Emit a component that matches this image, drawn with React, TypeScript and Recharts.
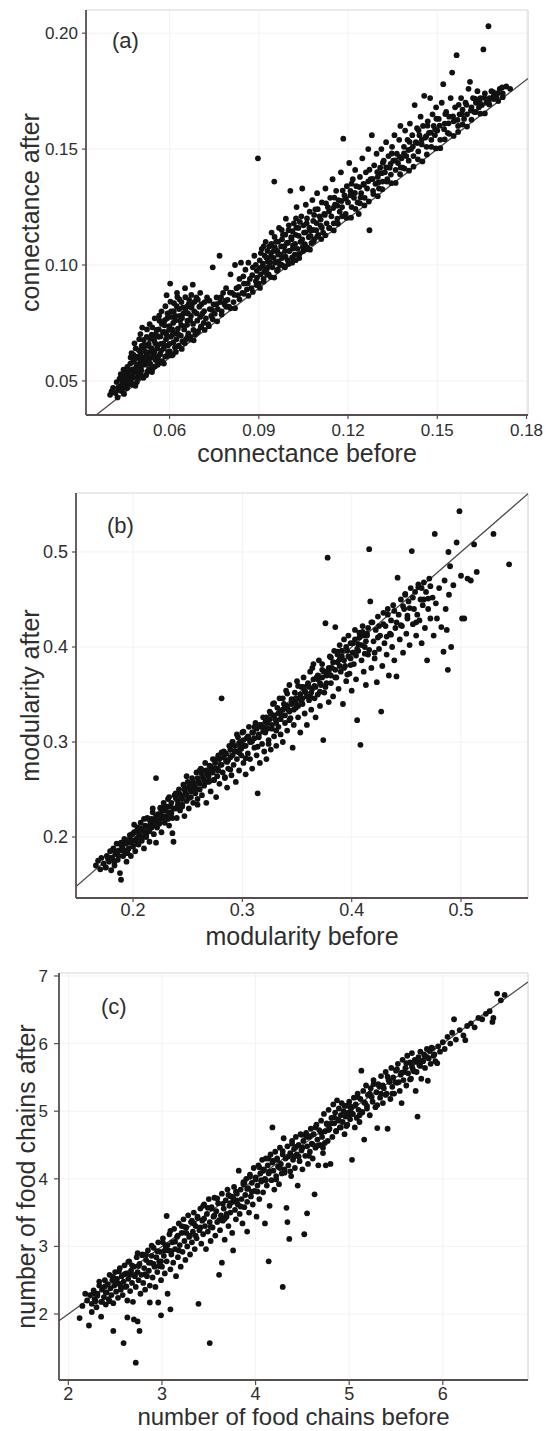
import { ScatterChart, Scatter, XAxis, YAxis, CartesianGrid, ReferenceLine } from "recharts"

type Pt = [number, number]

// (a) connectance before / after
const connectancePoints: Pt[] = [
  [0.0400,0.0440],[0.0405,0.0455],[0.0410,0.0470],[0.0418,0.0448],[0.0422,0.0495],[0.0428,0.0462],[0.0435,0.0478],[0.0432,0.0510],[0.0440,0.0456],
  [0.0442,0.0525],[0.0446,0.0490],[0.0450,0.0470],[0.0452,0.0545],[0.0455,0.0508],[0.0458,0.0560],[0.0462,0.0485],[0.0465,0.0530],[0.0468,0.0575],[0.0470,0.0500],[0.0472,0.0620],[0.0475,0.0550],
  [0.0478,0.0515],[0.0480,0.0590],[0.0483,0.0535],[0.0486,0.0640],[0.0488,0.0560],[0.0490,0.0495],[0.0493,0.0605],[0.0496,0.0525],[0.0498,0.0680],[0.0500,0.0575],[0.0503,0.0620],[0.0505,0.0545],[0.0508,0.0730],[0.0510,0.0600],[0.0512,0.0515],
  [0.0515,0.0655],[0.0518,0.0570],[0.0520,0.0625],[0.0523,0.0690],[0.0525,0.0540],[0.0528,0.0600],[0.0530,0.0660],[0.0533,0.0745],[0.0535,0.0575],[0.0538,0.0630],[0.0540,0.0700],[0.0543,0.0555],[0.0545,0.0610],[0.0548,0.0675],[0.0550,0.0770],
  [0.0553,0.0590],[0.0556,0.0720],[0.0558,0.0640],[0.0560,0.0570],[0.0563,0.0690],[0.0566,0.0760],[0.0568,0.0615],[0.0570,0.0660],[0.0573,0.0800],[0.0575,0.0585],[0.0578,0.0710],[0.0580,0.0640],[0.0583,0.0740],[0.0585,0.0605],[0.0588,0.0680],[0.0590,0.0870],
  [0.0592,0.0770],[0.0595,0.0625],[0.0598,0.0720],[0.0600,0.0660],[0.0602,0.0920],[0.0605,0.0800],[0.0607,0.0610],[0.0610,0.0700],[0.0612,0.0750],[0.0615,0.0835],[0.0618,0.0645],[0.0620,0.0780],[0.0623,0.0680],[0.0625,0.0880],[0.0628,0.0725],[0.0630,0.0650],
  [0.0632,0.0810],[0.0635,0.0760],[0.0638,0.0695],[0.0640,0.0840],[0.0643,0.0670],[0.0646,0.0790],[0.0650,0.0735],[0.0652,0.0900],[0.0655,0.0680],[0.0658,0.0820],[0.0660,0.0760],[0.0663,0.0705],[0.0666,0.0850],[0.0670,0.0690],[0.0672,0.0780],
  [0.0675,0.0830],[0.0678,0.0915],[0.0680,0.0720],[0.0683,0.0800],[0.0686,0.0700],[0.0690,0.0860],[0.0693,0.0760],[0.0696,0.0715],[0.0700,0.0820],[0.0703,0.0880],[0.0706,0.0735],[0.0710,0.0790],[0.0715,0.0750],[0.0718,0.0840],
  [0.0722,0.0770],[0.0726,0.0860],[0.0730,0.0745],[0.0735,0.0810],[0.0740,0.0780],[0.0745,0.0990],[0.0748,0.0830],[0.0752,0.0790],[0.0758,0.0860],[0.0762,0.0810],[0.0768,0.1040],[0.0770,0.0840],[0.0775,0.0800],[0.0780,0.0880],[0.0785,0.0830],[0.0790,0.0900],
  [0.0795,0.0850],[0.0800,0.0820],[0.0805,0.0960],[0.0810,0.0880],[0.0815,0.0840],[0.0820,0.1000],[0.0825,0.0900],[0.0830,0.0870],[0.0835,0.0940],[0.0840,0.1010],[0.0845,0.0880],[0.0850,0.0920],[0.0855,0.0980],[0.0860,0.0895],[0.0865,0.1010],[0.0870,0.0940],[0.0875,0.0900],[0.0880,0.0990],[0.0885,0.1040],[0.0890,0.0930],
  [0.0893,0.0975],[0.0897,0.1460],[0.0900,0.0920],[0.0903,0.1020],[0.0906,0.0960],[0.0910,0.1070],[0.0913,0.0995],[0.0916,0.0940],[0.0920,0.1040],[0.0923,0.1100],[0.0926,0.0980],[0.0930,0.1015],[0.0933,0.0960],[0.0936,0.1080],[0.0940,0.1035],[0.0943,0.1140],[0.0946,0.0990],[0.0950,0.1060],[0.0952,0.1360],[0.0955,0.1010],[0.0958,0.1100],[0.0961,0.0975],[0.0965,0.1045],[0.0968,0.1160],[0.0971,0.1000],[0.0975,0.1080],[0.0978,0.1030],[0.0981,0.1130],[0.0985,0.0995],[0.0988,0.1060],
  [0.0991,0.1200],[0.0994,0.1095],[0.0997,0.1020],[0.1000,0.1150],[0.1003,0.1060],[0.1006,0.1320],[0.1009,0.1120],[0.1012,0.1010],[0.1015,0.1085],[0.1018,0.1180],[0.1021,0.1045],[0.1024,0.1130],[0.1027,0.1250],[0.1030,0.1070],[0.1033,0.1160],[0.1036,0.1030],[0.1040,0.1100],[0.1043,0.1210],[0.1046,0.1330],[0.1049,0.1060],[0.1052,0.1140],[0.1055,0.1090],[0.1058,0.1260],[0.1061,0.1180],[0.1064,0.1075],[0.1068,0.1120],[0.1071,0.1230],[0.1074,0.1150],[0.1077,0.1095],[0.1080,0.1280],
  [0.1083,0.1190],[0.1086,0.1110],[0.1090,0.1240],[0.1093,0.1150],[0.1096,0.1310],[0.1100,0.1130],[0.1104,0.1210],[0.1108,0.1170],[0.1112,0.1270],[0.1116,0.1140],[0.1120,0.1220],[0.1124,0.1330],[0.1128,0.1180],[0.1132,0.1250],[0.1136,0.1160],[0.1140,0.1290],[0.1144,0.1210],[0.1148,0.1370],[0.1152,0.1180],[0.1156,0.1260],[0.1160,0.1320],[0.1164,0.1200],[0.1168,0.1280],[0.1172,0.1230],[0.1176,0.1400],[0.1180,0.1250],[0.1184,0.1545],[0.1188,0.1300],[0.1192,0.1220],[0.1196,0.1340],
  [0.1200,0.1270],[0.1204,0.1440],[0.1208,0.1320],[0.1212,0.1250],[0.1216,0.1370],[0.1220,0.1290],[0.1224,0.1410],[0.1228,0.1340],[0.1232,0.1270],[0.1236,0.1220],[0.1240,0.1380],[0.1244,0.1310],[0.1248,0.1460],[0.1252,0.1350],[0.1256,0.1290],[0.1260,0.1400],[0.1264,0.1330],[0.1268,0.1500],[0.1272,0.1150],[0.1276,0.1370],[0.1280,0.1560],[0.1284,0.1320],[0.1288,0.1430],[0.1292,0.1350],[0.1296,0.1480],
  [0.1300,0.1380],[0.1304,0.1330],[0.1308,0.1420],[0.1312,0.1500],[0.1316,0.1360],[0.1320,0.1450],[0.1324,0.1400],[0.1328,0.1530],[0.1332,0.1370],[0.1336,0.1470],[0.1340,0.1420],[0.1344,0.1390],[0.1348,0.1510],[0.1352,0.1450],[0.1356,0.1560],[0.1360,0.1410],[0.1364,0.1480],[0.1368,0.1440],[0.1372,0.1540],[0.1376,0.1600],[0.1380,0.1460],[0.1384,0.1420],[0.1388,0.1510],[0.1392,0.1580],[0.1396,0.1470],
  [0.1400,0.1540],[0.1404,0.1450],[0.1408,0.1610],[0.1412,0.1500],[0.1416,0.1560],[0.1420,0.1470],[0.1424,0.1690],[0.1428,0.1530],[0.1432,0.1590],[0.1436,0.1490],[0.1440,0.1560],[0.1444,0.1640],[0.1448,0.1520],[0.1452,0.1600],[0.1456,0.1730],[0.1460,0.1550],[0.1464,0.1510],[0.1468,0.1620],[0.1472,0.1570],[0.1476,0.1720],[0.1480,0.1540],[0.1484,0.1650],[0.1488,0.1600],[0.1492,0.1560],[0.1496,0.1680],
  [0.1500,0.1580],[0.1505,0.1630],[0.1510,0.1540],[0.1515,0.1700],[0.1520,0.1780],[0.1525,0.1610],[0.1530,0.1660],[0.1535,0.1570],[0.1540,0.1640],[0.1545,0.1720],[0.1550,0.1830],[0.1555,0.1620],[0.1560,0.1680],[0.1565,0.1905],[0.1570,0.1600],[0.1575,0.1650],[0.1580,0.1720],[0.1585,0.1670],[0.1590,0.1630],[0.1595,0.1700],
  [0.1600,0.1650],[0.1605,0.1760],[0.1610,0.1790],[0.1615,0.1680],[0.1620,0.1720],[0.1625,0.1660],[0.1630,0.1700],[0.1635,0.1750],[0.1640,0.1680],[0.1645,0.1720],[0.1650,0.1690],[0.1655,0.1930],[0.1660,0.1740],[0.1665,0.1700],[0.1672,0.2030],[0.1676,0.1720],[0.1682,0.1750],[0.1690,0.1730],[0.1700,0.1720],[0.1710,0.1760],[0.1720,0.1740],[0.1732,0.1770],[0.1745,0.1760],
  [0.0425,0.0429],[0.0427,0.0471],[0.0437,0.0458],[0.0439,0.0502],[0.0436,0.0529],[0.0447,0.0444],[0.0449,0.0521],[0.0445,0.0549],[0.0457,0.0469],[0.0459,0.0533],[0.0456,0.0500],
  [0.0466,0.0496],[0.0464,0.0546],[0.0469,0.0601],[0.0467,0.0519],[0.0476,0.0484],[0.0477,0.0582],[0.0474,0.0530],[0.0479,0.0612],[0.0485,0.0479],[0.0487,0.0551],[0.0484,0.0596],[0.0482,0.0662],
  [0.0494,0.0511],[0.0492,0.0571],[0.0497,0.0632],[0.0495,0.0546],[0.0503,0.0529],[0.0501,0.0592],[0.0506,0.0651],[0.0504,0.0561],[0.0502,0.0702],[0.0512,0.0514],[0.0514,0.0586],[0.0511,0.0642],[0.0513,0.0677],
  [0.0521,0.0525],[0.0522,0.0611],[0.0519,0.0584],[0.0524,0.0722],[0.0526,0.0651],[0.0531,0.0552],[0.0529,0.0621],[0.0534,0.0682],[0.0532,0.0596],[0.0541,0.0538],[0.0539,0.0641],[0.0544,0.0601],[0.0542,0.0731],[0.0546,0.0692],
  [0.0551,0.0563],[0.0549,0.0626],[0.0554,0.0701],[0.0552,0.0662],[0.0561,0.0591],[0.0559,0.0652],[0.0564,0.0722],[0.0562,0.0606],[0.0565,0.0782],[0.0571,0.0579],[0.0569,0.0692],[0.0574,0.0746],[0.0572,0.0631],
  [0.0581,0.0575],[0.0579,0.0662],[0.0584,0.0762],[0.0582,0.0711],[0.0586,0.0822],[0.0591,0.0608],[0.0589,0.0701],[0.0594,0.0652],[0.0593,0.0791],[0.0601,0.0627],[0.0599,0.0736],[0.0604,0.0691],[0.0603,0.0842],[0.0606,0.0776],
  [0.0611,0.0613],[0.0609,0.0722],[0.0614,0.0801],[0.0613,0.0666],[0.0621,0.0625],[0.0619,0.0761],[0.0624,0.0822],[0.0622,0.0706],[0.0626,0.0862],[0.0631,0.0652],[0.0629,0.0702],[0.0634,0.0781],[0.0633,0.0852],
  [0.0641,0.0638],[0.0639,0.0741],[0.0644,0.0816],[0.0642,0.0771],[0.0651,0.0663],[0.0649,0.0722],[0.0654,0.0801],[0.0653,0.0861],[0.0661,0.0691],[0.0659,0.0742],[0.0664,0.0831],[0.0662,0.0791],
  [0.0671,0.0679],[0.0669,0.0762],[0.0674,0.0816],[0.0673,0.0871],[0.0681,0.0675],[0.0679,0.0746],[0.0684,0.0841],[0.0693,0.0710],[0.0691,0.0791],[0.0695,0.0851],[0.0705,0.0731],[0.0703,0.0776],[0.0707,0.0831],
  [0.0718,0.0720],[0.0716,0.0801],[0.0732,0.0736],[0.0734,0.0846],[0.0745,0.0766],[0.0743,0.0806],[0.0760,0.0757],[0.0758,0.0831],[0.0775,0.0787],[0.0773,0.0861],[0.0790,0.0820],[0.0788,0.0846],
  [0.0805,0.0813],[0.0803,0.0881],[0.0820,0.0814],[0.0818,0.0871],[0.0835,0.0852],[0.0833,0.0906],[0.0850,0.0876],[0.0848,0.0951],[0.0865,0.0867],[0.0863,0.0921],[0.0880,0.0884],[0.0878,0.0956],
  [0.0892,0.0913],[0.0894,0.0946],[0.0890,0.1001],[0.0904,0.0901],[0.0902,0.0986],[0.0907,0.1051],[0.0916,0.0928],[0.0914,0.1006],[0.0918,0.0971],[0.0917,0.1081],[0.0928,0.0958],[0.0926,0.1031],[0.0931,0.0991],[0.0929,0.1061],
  [0.0940,0.0948],[0.0938,0.1011],[0.0942,0.1091],[0.0941,0.1051],[0.0952,0.0946],[0.0950,0.1031],[0.0954,0.1076],[0.0953,0.1121],[0.0964,0.0981],[0.0962,0.1061],[0.0966,0.1016],[0.0965,0.1101],
  [0.0976,0.1002],[0.0974,0.1046],[0.0978,0.1111],[0.0977,0.1151],[0.0988,0.0990],[0.0986,0.1081],[0.0990,0.1036],[0.0989,0.1131],[0.1000,0.1004],[0.0998,0.1096],[0.1002,0.1061],[0.1001,0.1171],
  [0.1012,0.1033],[0.1010,0.1111],[0.1014,0.1071],[0.1013,0.1146],[0.1024,0.1021],[0.1022,0.1091],[0.1026,0.1161],[0.1025,0.1201],[0.1036,0.1048],[0.1034,0.1126],[0.1038,0.1186],
  [0.1048,0.1078],[0.1046,0.1111],[0.1050,0.1171],[0.1060,0.1068],[0.1058,0.1141],[0.1062,0.1201],[0.1072,0.1066],[0.1070,0.1161],[0.1074,0.1126],[0.1084,0.1101],[0.1082,0.1151],[0.1086,0.1216],
  [0.1096,0.1122],[0.1094,0.1181],[0.1098,0.1241],[0.1110,0.1112],[0.1108,0.1196],[0.1112,0.1161],[0.1124,0.1128],[0.1122,0.1216],[0.1126,0.1266],[0.1138,0.1159],[0.1136,0.1231],
  [0.1152,0.1149],[0.1150,0.1246],[0.1154,0.1291],[0.1166,0.1178],[0.1164,0.1256],[0.1180,0.1210],[0.1178,0.1276],[0.1182,0.1321],[0.1195,0.1203],[0.1193,0.1286],
  [0.1210,0.1204],[0.1208,0.1301],[0.1212,0.1351],[0.1225,0.1242],[0.1223,0.1311],[0.1240,0.1266],[0.1238,0.1336],[0.1242,0.1291],[0.1255,0.1257],[0.1253,0.1346],
  [0.1270,0.1274],[0.1268,0.1361],[0.1272,0.1411],[0.1285,0.1306],[0.1283,0.1371],[0.1300,0.1297],[0.1298,0.1401],[0.1302,0.1356],[0.1315,0.1327],[0.1313,0.1396],[0.1317,0.1441],
  [0.1330,0.1360],[0.1328,0.1421],[0.1345,0.1353],[0.1343,0.1436],[0.1347,0.1481],[0.1360,0.1354],[0.1358,0.1451],[0.1375,0.1392],[0.1373,0.1466],[0.1377,0.1421],[0.1390,0.1416],[0.1388,0.1481],
  [0.1405,0.1407],[0.1403,0.1496],[0.1407,0.1531],[0.1420,0.1424],[0.1418,0.1511],[0.1435,0.1456],[0.1433,0.1526],[0.1437,0.1581],[0.1450,0.1447],[0.1448,0.1541],[0.1465,0.1477],[0.1463,0.1556],[0.1467,0.1601],
  [0.1480,0.1510],[0.1478,0.1571],[0.1495,0.1503],[0.1493,0.1586],[0.1497,0.1631],[0.1510,0.1504],[0.1508,0.1601],[0.1525,0.1542],[0.1523,0.1586],[0.1527,0.1651],[0.1540,0.1566],[0.1538,0.1611],
  [0.1555,0.1557],[0.1553,0.1641],[0.1570,0.1574],[0.1568,0.1626],[0.1572,0.1691],[0.1585,0.1606],[0.1583,0.1651],[0.1600,0.1597],[0.1598,0.1691],[0.1615,0.1627],[0.1613,0.1666],
  [0.1630,0.1660],[0.1628,0.1716],[0.1645,0.1653],[0.1643,0.1701],[0.1660,0.1654],[0.1658,0.1721],[0.1675,0.1692],[0.1673,0.1706],[0.1690,0.1716],[0.1688,0.1746],[0.1705,0.1707],[0.1703,0.1741],[0.1720,0.1724],[0.1718,0.1766],
]

// (b) modularity before / after
const modularityPoints: Pt[] = [
  [0.166,0.170],[0.168,0.175],[0.170,0.166],[0.171,0.178],[0.173,0.172],[0.175,0.168],[0.176,0.180],[0.178,0.174],[0.179,0.185],[0.180,0.165],
  [0.181,0.178],[0.182,0.188],[0.183,0.170],[0.184,0.182],[0.185,0.193],[0.186,0.176],[0.187,0.186],[0.188,0.162],[0.189,0.155],[0.190,0.190],[0.191,0.180],[0.192,0.198],[0.193,0.185],[0.194,0.174],[0.195,0.194],[0.196,0.188],[0.197,0.202],[0.198,0.180],[0.199,0.196],[0.200,0.190],
  [0.201,0.205],[0.202,0.185],[0.203,0.198],[0.204,0.210],[0.205,0.192],[0.206,0.203],[0.207,0.215],[0.208,0.196],[0.209,0.207],[0.210,0.188],[0.211,0.212],[0.212,0.200],[0.213,0.220],[0.214,0.206],[0.215,0.195],[0.216,0.215],[0.217,0.210],[0.218,0.226],[0.219,0.203],[0.220,0.218],
  [0.221,0.262],[0.222,0.210],[0.223,0.224],[0.224,0.214],[0.225,0.231],[0.226,0.205],[0.227,0.220],[0.228,0.236],[0.229,0.215],[0.230,0.228],[0.231,0.222],[0.232,0.240],[0.233,0.212],[0.234,0.232],[0.235,0.225],[0.236,0.204],[0.237,0.195],[0.238,0.244],[0.239,0.230],[0.240,0.220],
  [0.241,0.238],[0.242,0.250],[0.243,0.228],[0.244,0.243],[0.245,0.234],[0.246,0.255],[0.247,0.222],[0.248,0.246],[0.249,0.238],[0.250,0.258],[0.251,0.230],[0.252,0.250],[0.253,0.242],[0.254,0.262],[0.255,0.236],[0.256,0.254],[0.257,0.246],[0.258,0.268],[0.259,0.240],[0.260,0.258],
  [0.261,0.250],[0.262,0.272],[0.263,0.244],[0.264,0.262],[0.265,0.254],[0.266,0.278],[0.267,0.236],[0.268,0.266],[0.269,0.258],[0.270,0.275],[0.271,0.248],[0.272,0.268],[0.273,0.282],[0.274,0.260],[0.275,0.272],[0.276,0.242],[0.277,0.264],[0.278,0.286],[0.279,0.256],[0.280,0.276],
  [0.281,0.346],[0.282,0.268],[0.283,0.290],[0.284,0.262],[0.285,0.280],[0.286,0.252],[0.287,0.272],[0.288,0.296],[0.289,0.284],[0.290,0.265],[0.291,0.300],[0.292,0.276],[0.293,0.290],[0.294,0.258],[0.295,0.282],[0.296,0.305],[0.297,0.270],[0.298,0.294],[0.299,0.286],[0.300,0.310],
  [0.301,0.278],[0.302,0.296],[0.303,0.266],[0.304,0.304],[0.305,0.288],[0.306,0.316],[0.307,0.282],[0.308,0.300],[0.309,0.272],[0.310,0.310],[0.311,0.294],[0.312,0.320],[0.313,0.286],[0.314,0.246],[0.315,0.305],[0.316,0.278],[0.317,0.316],[0.318,0.298],[0.319,0.326],[0.320,0.290],
  [0.321,0.310],[0.322,0.282],[0.323,0.320],[0.324,0.302],[0.325,0.332],[0.326,0.292],[0.327,0.314],[0.328,0.340],[0.329,0.306],[0.330,0.324],[0.331,0.296],[0.332,0.336],[0.333,0.316],[0.334,0.346],[0.335,0.308],[0.336,0.328],[0.337,0.300],[0.338,0.340],[0.339,0.320],[0.340,0.354],
  [0.341,0.312],[0.342,0.334],[0.343,0.360],[0.344,0.325],[0.345,0.345],[0.346,0.294],[0.347,0.318],[0.348,0.352],[0.349,0.336],[0.350,0.364],[0.351,0.326],[0.352,0.346],[0.353,0.310],[0.354,0.358],[0.355,0.340],[0.356,0.368],[0.357,0.330],[0.358,0.352],[0.359,0.318],[0.360,0.362],
  [0.361,0.344],[0.362,0.374],[0.363,0.334],[0.364,0.356],[0.365,0.382],[0.366,0.346],[0.367,0.326],[0.368,0.368],[0.369,0.350],[0.370,0.386],[0.371,0.338],[0.372,0.360],[0.373,0.376],[0.374,0.302],[0.375,0.352],[0.376,0.425],[0.377,0.370],[0.378,0.494],[0.379,0.342],[0.380,0.390],
  [0.381,0.362],[0.382,0.378],[0.383,0.348],[0.384,0.396],[0.385,0.421],[0.386,0.368],[0.387,0.384],[0.388,0.356],[0.389,0.402],[0.390,0.374],[0.391,0.390],[0.392,0.340],[0.393,0.408],[0.394,0.380],[0.395,0.364],[0.396,0.396],[0.397,0.412],[0.398,0.372],[0.399,0.388],[0.400,0.354],
  [0.401,0.404],[0.402,0.382],[0.403,0.418],[0.404,0.366],[0.405,0.323],[0.406,0.396],[0.407,0.410],[0.408,0.297],[0.409,0.386],[0.410,0.422],[0.411,0.374],[0.412,0.400],[0.413,0.360],[0.414,0.414],[0.415,0.392],[0.416,0.503],[0.417,0.448],[0.418,0.378],[0.419,0.426],[0.420,0.406],
  [0.421,0.388],[0.422,0.418],[0.423,0.363],[0.424,0.432],[0.425,0.398],[0.426,0.412],[0.427,0.332],[0.428,0.380],[0.429,0.436],[0.430,0.404],[0.431,0.422],[0.432,0.392],[0.433,0.440],[0.434,0.370],[0.435,0.414],[0.436,0.428],[0.437,0.400],[0.438,0.444],[0.439,0.386],[0.440,0.420],
  [0.441,0.369],[0.442,0.473],[0.443,0.434],[0.444,0.408],[0.445,0.450],[0.446,0.422],[0.447,0.394],[0.448,0.440],[0.449,0.456],[0.450,0.414],[0.451,0.430],[0.452,0.448],[0.453,0.402],[0.454,0.462],[0.455,0.501],[0.456,0.424],[0.457,0.440],[0.458,0.458],[0.459,0.412],[0.460,0.434],
  [0.461,0.466],[0.462,0.428],[0.463,0.450],[0.464,0.404],[0.465,0.444],[0.466,0.468],[0.467,0.420],[0.468,0.458],[0.469,0.386],[0.470,0.440],[0.471,0.472],[0.472,0.430],[0.474,0.452],[0.475,0.412],[0.476,0.519],[0.477,0.446],[0.478,0.430],[0.480,0.462],[0.482,0.421],[0.484,0.395],
  [0.485,0.470],[0.486,0.440],[0.487,0.418],[0.488,0.376],[0.4885,0.500],[0.489,0.455],[0.490,0.485],[0.491,0.400],[0.493,0.465],[0.496,0.510],[0.4986,0.543],[0.500,0.475],[0.501,0.430],[0.503,0.430],[0.506,0.472],[0.509,0.470],[0.512,0.508],[0.5144,0.479],[0.5297,0.519],[0.544,0.487],
  [0.185,0.184],[0.187,0.180],[0.189,0.192],[0.191,0.187],[0.193,0.193],[0.195,0.183],[0.197,0.195],[0.199,0.203],[0.201,0.196],[0.203,0.206],[0.205,0.200],[0.207,0.209],[0.209,0.200],[0.211,0.205],[0.213,0.211],[0.215,0.206],[0.217,0.219],[0.219,0.213],[0.221,0.222],[0.223,0.216],
  [0.225,0.224],[0.227,0.228],[0.229,0.222],[0.231,0.232],[0.233,0.226],[0.235,0.236],[0.237,0.230],[0.239,0.241],[0.241,0.232],[0.243,0.245],[0.245,0.240],[0.247,0.250],[0.249,0.244],[0.251,0.253],[0.253,0.248],[0.255,0.258],[0.257,0.252],[0.259,0.262],[0.261,0.256],[0.263,0.266],
  [0.265,0.260],[0.267,0.270],[0.269,0.264],[0.271,0.274],[0.273,0.268],[0.275,0.278],[0.277,0.272],[0.279,0.282],[0.281,0.276],[0.283,0.284],[0.285,0.288],[0.287,0.281],[0.289,0.292],[0.291,0.286],[0.293,0.296],[0.295,0.290],[0.297,0.299],[0.299,0.293],[0.301,0.302],[0.303,0.296],
  [0.305,0.306],[0.307,0.300],[0.309,0.310],[0.311,0.304],[0.313,0.314],[0.315,0.308],[0.317,0.318],[0.319,0.311],[0.321,0.321],[0.323,0.314],[0.325,0.324],[0.327,0.318],[0.329,0.328],[0.331,0.320],[0.333,0.330],[0.335,0.324],[0.337,0.334],[0.339,0.328],[0.341,0.338],[0.343,0.332],
  [0.345,0.340],[0.347,0.334],[0.349,0.346],[0.351,0.338],[0.353,0.350],[0.355,0.346],[0.357,0.354],[0.359,0.348],[0.361,0.358],[0.363,0.352],[0.365,0.366],[0.367,0.358],[0.369,0.370],[0.371,0.362],[0.373,0.368],[0.375,0.374],[0.377,0.362],[0.379,0.378],[0.381,0.370],[0.383,0.384],
  [0.385,0.376],[0.387,0.392],[0.389,0.380],[0.391,0.396],[0.393,0.386],[0.395,0.400],[0.397,0.390],[0.399,0.404],[0.401,0.394],[0.403,0.408],[0.405,0.398],[0.407,0.415],[0.409,0.402],[0.411,0.412],[0.413,0.406],[0.415,0.420],
  [0.175,0.168],[0.177,0.178],[0.179,0.178],[0.181,0.186],[0.183,0.174],[0.186,0.185],[0.189,0.194],[0.190,0.186],[0.197,0.198],[0.194,0.184],[0.201,0.213],[0.198,0.194],
  [0.206,0.205],[0.204,0.193],[0.210,0.219],[0.212,0.202],[0.214,0.219],[0.216,0.211],[0.218,0.230],[0.221,0.194],[0.224,0.218],[0.225,0.230],[0.232,0.219],[0.229,0.232],
  [0.236,0.220],[0.233,0.242],[0.241,0.234],[0.239,0.246],[0.245,0.232],[0.247,0.251],[0.249,0.264],[0.251,0.241],[0.253,0.256],[0.256,0.249],[0.261,0.270],[0.259,0.234],
  [0.266,0.258],[0.264,0.270],[0.270,0.259],[0.272,0.272],[0.274,0.260],[0.276,0.282],[0.278,0.270],[0.281,0.289],[0.286,0.279],[0.284,0.263],[0.291,0.300],[0.289,0.271],
  [0.295,0.308],[0.297,0.289],[0.299,0.300],[0.301,0.311],[0.303,0.283],[0.306,0.304],[0.311,0.316],[0.309,0.301],[0.316,0.318],[0.314,0.295],[0.320,0.315],[0.322,0.326],
  [0.324,0.298],[0.326,0.330],[0.331,0.312],[0.329,0.341],[0.335,0.331],[0.337,0.346],[0.339,0.336],[0.341,0.351],[0.343,0.323],[0.346,0.344],[0.351,0.359],[0.349,0.341],
  [0.356,0.358],[0.354,0.343],[0.360,0.360],[0.362,0.348],[0.364,0.378],[0.366,0.359],[0.369,0.366],[0.371,0.353],[0.373,0.382],[0.376,0.358],[0.381,0.389],[0.379,0.374],
  [0.385,0.368],[0.387,0.395],[0.389,0.387],[0.391,0.396],[0.393,0.378],[0.396,0.371],[0.401,0.394],[0.399,0.381],[0.406,0.403],[0.404,0.391],[0.410,0.416],[0.412,0.393],
  [0.414,0.412],[0.416,0.397],[0.418,0.426],[0.421,0.394],[0.424,0.410],[0.425,0.422],[0.432,0.411],[0.429,0.424],[0.436,0.413],[0.433,0.434],[0.441,0.426],[0.439,0.438],
  [0.445,0.423],[0.447,0.443],[0.449,0.455],[0.451,0.433],[0.453,0.441],[0.456,0.452],[0.461,0.463],[0.459,0.426],[0.466,0.450],[0.464,0.462],[0.470,0.451],[0.472,0.464],
]

// (c) number of food chains before / after
const foodChainPoints: Pt[] = [
  [2.12,1.94],[2.15,2.12],[2.18,2.30],[2.20,2.20],[2.22,1.83],[2.23,2.28],[2.25,2.15],[2.27,2.35],[2.28,2.22],[2.30,2.10],[2.31,2.30],[2.33,2.42],[2.35,1.96],[2.35,2.18],[2.36,2.36],[2.38,2.25],[2.39,2.50],[2.40,2.14],[2.41,2.32],[2.42,2.44],
  [2.43,2.22],[2.44,2.58],[2.45,2.38],[2.46,2.28],[2.47,2.50],[2.48,1.75],[2.48,2.16],[2.49,2.42],[2.50,2.62],[2.51,2.33],[2.52,2.52],[2.53,2.24],[2.54,2.45],[2.55,2.68],[2.56,2.36],[2.57,2.56],[2.58,2.28],[2.59,1.57],[2.59,2.48],[2.60,2.72],
  [2.61,2.40],[2.62,2.60],[2.63,2.20],[2.63,1.95],[2.64,2.52],[2.65,2.78],[2.66,2.34],[2.67,2.64],[2.68,2.46],[2.69,2.18],[2.70,2.70],[2.70,1.92],[2.71,2.56],[2.72,1.28],[2.72,2.40],[2.73,2.84],[2.74,1.89],[2.74,2.62],[2.75,2.50],[2.76,1.75],
  [2.76,2.74],[2.77,2.30],[2.78,2.58],[2.79,2.88],[2.80,2.46],[2.81,2.68],[2.82,2.36],[2.83,2.80],[2.84,2.56],[2.85,2.94],[2.86,2.64],[2.87,2.17],[2.87,2.42],[2.88,2.76],[2.89,2.86],[2.90,2.54],[2.91,2.98],[2.92,2.70],[2.93,2.40],[2.94,2.84],
  [2.95,2.62],[2.96,3.06],[2.96,2.17],[2.97,2.78],[2.98,2.92],[2.99,1.98],[2.99,2.50],[3.00,2.70],[3.01,3.12],[3.02,2.86],[3.03,2.60],[3.04,3.00],[3.05,3.45],[3.05,2.78],[3.06,2.30],[3.07,2.94],[3.08,3.18],[3.09,2.07],[3.09,2.66],[3.10,2.88],
  [3.11,3.06],[3.12,2.76],[3.13,3.26],[3.14,2.96],[3.15,2.56],[3.16,3.14],[3.17,2.84],[3.18,3.34],[3.19,3.02],[3.20,2.70],[3.21,3.20],[3.22,2.92],[3.23,3.40],[3.24,3.08],[3.25,2.80],[3.26,3.28],[3.27,3.00],[3.28,3.46],[3.29,3.14],[3.30,2.88],
  [3.31,3.36],[3.32,3.06],[3.33,3.22],[3.34,3.50],[3.35,2.96],[3.36,3.30],[3.37,3.12],[3.38,3.44],[3.39,2.15],[3.40,3.24],[3.41,3.56],[3.42,3.04],[3.43,3.38],[3.44,3.18],[3.45,3.62],[3.46,3.30],[3.47,2.96],[3.48,3.48],[3.49,3.22],[3.50,3.70],
  [3.51,1.57],[3.51,3.36],[3.52,3.08],[3.53,3.56],[3.54,3.28],[3.55,3.44],[3.56,3.72],[3.57,3.16],[3.58,3.52],[3.59,3.36],[3.60,3.64],[3.61,2.58],[3.62,3.24],[3.63,3.46],[3.64,2.76],[3.64,3.78],[3.65,3.38],[3.66,3.56],[3.67,3.10],[3.68,3.68],
  [3.69,3.44],[3.70,3.84],[3.71,3.30],[3.72,3.60],[3.73,3.50],[3.74,3.74],[3.75,3.20],[3.76,2.94],[3.76,3.66],[3.77,3.88],[3.78,3.54],[3.79,3.40],[3.80,3.78],[3.81,3.62],[3.82,4.12],[3.83,3.48],[3.84,3.84],[3.85,3.70],[3.86,3.34],[3.87,3.92],
  [3.88,3.58],[3.89,3.76],[3.90,4.00],[3.91,3.22],[3.91,3.66],[3.92,3.86],[3.93,3.50],[3.94,4.06],[3.95,3.74],[3.96,3.94],[3.97,3.62],[3.98,4.16],[3.99,3.82],[4.00,4.02],[4.01,3.44],[4.02,3.90],[4.03,4.20],[4.04,3.70],[4.05,4.08],[4.06,3.96],
  [4.07,4.28],[4.08,3.80],[4.09,4.14],[4.10,3.34],[4.10,4.00],[4.11,4.30],[4.12,3.90],[4.13,4.20],[4.14,2.78],[4.14,4.08],[4.15,3.60],[4.16,4.36],[4.17,3.98],[4.18,4.76],[4.18,4.24],[4.19,4.12],[4.20,3.84],[4.21,4.40],[4.22,4.04],[4.23,4.30],
  [4.24,4.18],[4.25,3.92],[4.26,4.46],[4.27,4.22],[4.28,4.08],[4.29,2.40],[4.29,4.36],[4.30,4.60],[4.31,4.14],[4.32,4.30],[4.33,3.57],[4.34,3.36],[4.34,4.48],[4.35,4.20],[4.36,3.11],[4.37,4.38],[4.38,4.04],[4.39,4.56],[4.40,4.28],[4.41,4.44],
  [4.42,4.16],[4.43,4.62],[4.44,4.36],[4.45,3.90],[4.46,4.50],[4.47,4.26],[4.48,4.66],[4.49,4.42],[4.50,4.14],[4.51,4.56],[4.52,3.18],[4.53,4.34],[4.54,4.68],[4.55,3.49],[4.55,4.48],[4.56,4.22],[4.57,4.62],[4.58,4.40],[4.59,4.74],[4.60,4.52],
  [4.61,4.30],[4.62,4.66],[4.63,3.77],[4.64,4.46],[4.65,4.80],[4.66,4.58],[4.67,4.20],[4.68,4.72],[4.69,4.50],[4.70,4.86],[4.71,4.62],[4.72,4.38],[4.73,4.96],[4.74,4.70],[4.75,4.20],[4.76,4.82],[4.77,4.56],[4.78,5.02],[4.79,4.74],[4.80,4.22],
  [4.81,4.90],[4.82,4.62],[4.83,5.10],[4.84,4.82],[4.85,4.98],[4.86,4.70],[4.87,5.16],[4.88,4.88],[4.89,5.04],[4.90,4.76],[4.91,4.94],[4.92,5.12],[4.93,4.84],[4.94,5.00],[4.95,4.66],[4.96,4.92],[4.97,5.08],[4.98,4.80],[4.99,4.98],[5.00,5.14],
  [5.01,4.88],[5.02,5.04],[5.03,4.28],[5.04,4.96],[5.05,5.20],[5.06,4.76],[5.07,5.10],[5.08,4.90],[5.09,5.26],[5.10,5.02],[5.11,4.84],[5.12,5.18],[5.13,5.60],[5.14,4.98],[5.15,5.30],[5.16,4.58],[5.17,5.12],[5.18,5.38],[5.19,5.04],[5.20,5.24],
  [5.22,4.94],[5.23,5.34],[5.25,5.14],[5.26,5.46],[5.28,5.06],[5.29,5.28],[5.30,4.75],[5.31,5.40],[5.33,5.20],[5.34,5.52],[5.36,5.12],[5.37,5.34],[5.39,5.58],[5.40,5.26],[5.41,4.74],[5.42,5.46],[5.44,5.18],[5.45,5.64],[5.46,5.36],[5.47,5.50],
  [5.48,5.26],[5.50,5.60],[5.51,5.42],[5.52,5.70],[5.54,5.30],[5.55,5.54],[5.56,5.12],[5.57,5.76],[5.58,5.46],[5.60,5.64],[5.61,5.38],[5.62,5.82],[5.63,5.56],[5.65,5.72],[5.66,5.48],[5.67,5.86],[5.68,5.62],[5.70,5.76],[5.71,5.30],[5.73,4.92],
  [5.72,5.58],[5.74,5.80],[5.75,5.68],[5.76,5.88],[5.77,5.48],[5.78,5.74],[5.80,5.84],[5.81,5.64],[5.83,5.92],[5.84,5.45],[5.85,5.78],[5.87,5.70],[5.88,5.94],[5.90,5.82],[5.92,5.74],[5.94,5.71],[5.95,5.96],[5.97,5.88],[6.00,6.02],[6.02,5.92],
  [6.05,6.10],[6.08,6.00],[6.10,6.16],[6.12,6.36],[6.14,6.06],[6.18,6.20],[6.22,6.12],[6.24,6.05],[6.26,6.26],[6.30,6.30],[6.34,6.24],[6.38,6.38],[6.42,6.36],[6.46,6.44],[6.50,6.48],[6.53,6.32],[6.54,6.38],[6.58,6.74],[6.62,6.64],[6.66,6.72],
  [2.25,2.03],[2.27,2.31],[2.29,2.19],[2.31,2.27],[2.33,2.48],[2.36,2.18],[2.39,2.41],[2.40,2.32],[2.47,2.55],[2.44,2.19],[2.51,2.45],[2.48,2.54],
  [2.56,2.41],[2.54,2.63],[2.60,2.59],[2.62,2.41],[2.64,2.77],[2.66,2.58],[2.68,2.72],[2.71,2.58],[2.74,2.90],[2.75,2.71],[2.82,2.59],[2.79,2.87],
  [2.86,2.76],[2.83,2.88],[2.91,2.74],[2.89,3.01],[2.95,2.93],[2.97,2.71],[2.99,2.78],[3.01,3.06],[3.03,2.94],[3.06,3.02],[3.09,3.23],[3.10,2.93],
  [3.17,3.16],[3.14,3.07],[3.21,3.30],[3.18,2.94],[3.26,3.20],[3.24,3.29],[3.30,3.16],[3.32,3.38],[3.34,3.34],[3.36,3.16],[3.38,3.42],[3.41,3.28],
  [3.44,3.60],[3.45,3.41],[3.52,3.29],[3.49,3.57],[3.56,3.46],[3.53,3.58],[3.61,3.39],[3.59,3.71],[3.65,3.63],[3.67,3.41],[3.69,3.48],[3.71,3.76],
  [3.73,3.64],[3.76,3.72],[3.79,3.81],[3.80,3.68],[3.87,3.95],[3.84,3.59],[3.91,3.85],[3.88,3.94],[3.96,3.81],[3.94,4.03],[4.00,3.99],[4.02,3.81],
  [4.04,4.17],[4.06,3.98],[4.08,4.12],[4.11,3.98],[4.14,4.30],[4.15,4.11],[4.22,3.99],[4.19,4.27],[4.26,4.16],[4.23,4.28],[4.31,4.09],[4.29,4.41],
  [4.35,4.33],[4.37,4.11],[4.39,4.52],[4.41,4.33],[4.43,4.47],[4.46,4.33],[4.49,4.65],[4.50,4.46],[4.57,4.34],[4.54,4.62],[4.61,4.51],[4.58,4.63],
  [4.66,4.49],[4.64,4.76],[4.70,4.68],[4.72,4.46],[4.74,4.53],[4.76,4.81],[4.78,4.72],[4.81,4.82],[4.86,4.71],[4.84,4.91],[4.91,4.76],[4.89,4.86],
  [4.95,5.08],[4.97,4.78],[4.99,4.93],[5.01,5.07],[5.03,4.96],[5.06,5.08],[5.11,4.94],[5.09,5.21],[5.16,5.13],[5.14,4.99],[5.22,5.26],[5.19,5.08],
  [5.26,5.40],[5.24,5.21],[5.30,5.09],[5.32,5.37],[5.34,5.26],[5.36,5.38],[5.39,5.24],[5.41,5.51],[5.43,5.43],[5.46,5.26],[5.51,5.62],[5.49,5.43],
  [5.56,5.57],[5.53,5.43],[5.61,5.71],[5.59,5.58],[5.65,5.47],[5.67,5.67],[5.69,5.59],[5.71,5.73],[5.73,5.73],[5.76,5.67],[5.81,5.81],[5.79,5.74],
  [5.86,5.89],[5.84,5.79],[5.91,5.84],[5.89,5.93],
]

const connectanceTicksX = [0.06, 0.09, 0.12, 0.15, 0.18]
const connectanceTicksY = [0.05, 0.1, 0.15, 0.2]
const modularityTicks = [0.2, 0.3, 0.4, 0.5]
const chainTicksX = [2, 3, 4, 5, 6]
const chainTicksY = [2, 3, 4, 5, 6, 7]

const FONT = "'Liberation Sans', Arial, Helvetica, sans-serif"
const AXIS = "#574e4e"
const TEXT = "#2e2e2e"

const Dot = (p: any) => <circle cx={p.cx} cy={p.cy} r={2.9} fill="#111" />

// y title + panel tag, placed from the y axis viewBox
const YTitle = (props: any) => {
  const { viewBox, caption, titleX, tag, tagX, tagDy } = props
  const cy = viewBox.y + viewBox.height / 2
  return (
    <g>
      <text x={titleX} y={cy} transform={`rotate(-90 ${titleX} ${cy})`} textAnchor="middle"
        dominantBaseline="central" fontSize={25} fill={TEXT} fontFamily={FONT}>{caption}</text>
      <text x={tagX} y={viewBox.y + tagDy} fontSize={22} fill={TEXT} fontFamily={FONT}>{tag}</text>
    </g>
  )
}

const XTitle = (props: any) => {
  const { viewBox, caption, dy, size } = props
  return (
    <text x={viewBox.x + viewBox.width / 2} y={viewBox.y + dy} textAnchor="middle"
      fontSize={size} fill={TEXT} fontFamily={FONT}>{caption}</text>
  )
}

function Panel(props: any) {
  const { points, xDomain, yDomain, xTicks, yTicks, fmt, xTitle, yTitle, tag, top, height,
    plotLeft, plotTop, plotBottom, xTickFont, yTickFont, xTickMargin, yTickMargin, tickSize,
    titleX, titleDy, titleSize, tagX, tagDy } = props
  const data = points.map(([x, y]: Pt) => ({ x, y }))
  const lo = Math.max(xDomain[0], yDomain[0])
  const hi = Math.min(xDomain[1], yDomain[1])
  return (
    <div style={{ position: "absolute", left: 0, top, width: 548, height }}>
      <ScatterChart width={548} height={height} margin={{ top: plotTop, right: 20, bottom: 0, left: 0 }}>
        <CartesianGrid stroke="#f4f2f2" />
        <XAxis type="number" dataKey="x" domain={xDomain} ticks={xTicks} interval={0} allowDataOverflow
          height={height - plotBottom} tickFormatter={fmt} tickSize={tickSize} tickMargin={xTickMargin}
          stroke={AXIS} axisLine={{ stroke: AXIS, strokeWidth: 1.8 }} tickLine={{ stroke: AXIS, strokeWidth: 1.2 }}
          tick={{ fontSize: xTickFont, fill: TEXT, fontFamily: FONT }}
          label={<XTitle caption={xTitle} dy={titleDy} size={titleSize} />} />
        <YAxis type="number" dataKey="y" domain={yDomain} ticks={yTicks} interval={0} allowDataOverflow
          width={plotLeft} tickFormatter={fmt} tickSize={tickSize} tickMargin={yTickMargin}
          stroke={AXIS} axisLine={{ stroke: AXIS, strokeWidth: 1.8 }} tickLine={{ stroke: AXIS, strokeWidth: 1.2 }}
          tick={{ fontSize: yTickFont, fill: TEXT, fontFamily: FONT }}
          label={<YTitle caption={yTitle} titleX={titleX} tag={tag} tagX={tagX} tagDy={tagDy} />} />
        <ReferenceLine y={yDomain[1]} stroke="#dedada" strokeWidth={1.2} />
        <ReferenceLine x={xDomain[1]} stroke="#dedada" strokeWidth={1.2} />
        <Scatter data={data} isAnimationActive={false} shape={Dot} />
        <ReferenceLine segment={[{ x: lo, y: lo }, { x: hi, y: hi }]} stroke="#4e4646" strokeWidth={1.3} ifOverflow="hidden" />
      </ScatterChart>
    </div>
  )
}

export default function App() {
  return (
    <div style={{ position: "absolute", left: 0, top: 0, width: 548, height: 1431, background: "#fff" }}>
      <Panel points={connectancePoints} xDomain={[0.0319, 0.1805]} yDomain={[0.0353, 0.21]}
        xTicks={connectanceTicksX} yTicks={connectanceTicksY} fmt={(v: number) => v.toFixed(2)}
        xTitle="connectance before" yTitle="connectance after" tag="(a)"
        top={0} height={470} plotLeft={86} plotTop={10} plotBottom={415}
        xTickFont={17} yTickFont={17} xTickMargin={5} yTickMargin={4} tickSize={4}
        titleX={30} titleDy={47} titleSize={25} tagX={112} tagDy={38} />
      <Panel points={modularityPoints} xDomain={[0.1478, 0.5613]} yDomain={[0.1358, 0.5621]}
        xTicks={modularityTicks} yTicks={modularityTicks} fmt={(v: number) => v.toFixed(1)}
        xTitle="modularity before" yTitle="modularity after" tag="(b)"
        top={470} height={480} plotLeft={76} plotTop={23} plotBottom={428}
        xTickFont={18} yTickFont={18} xTickMargin={1} yTickMargin={4} tickSize={4}
        titleX={30} titleDy={47} titleSize={25} tagX={107} tagDy={40} />
      <Panel points={foodChainPoints} xDomain={[1.9, 6.91]} yDomain={[1.024, 7.044]}
        xTicks={chainTicksX} yTicks={chainTicksY} fmt={(v: number) => String(v)}
        xTitle="number of food chains before" yTitle="number of food chains after" tag="(c)"
        top={950} height={481} plotLeft={59} plotTop={23} plotBottom={430}
        xTickFont={18} yTickFont={17} xTickMargin={2} yTickMargin={6} tickSize={5}
        titleX={26} titleDy={45} titleSize={24} tagX={101} tagDy={41} />
    </div>
  )
}
